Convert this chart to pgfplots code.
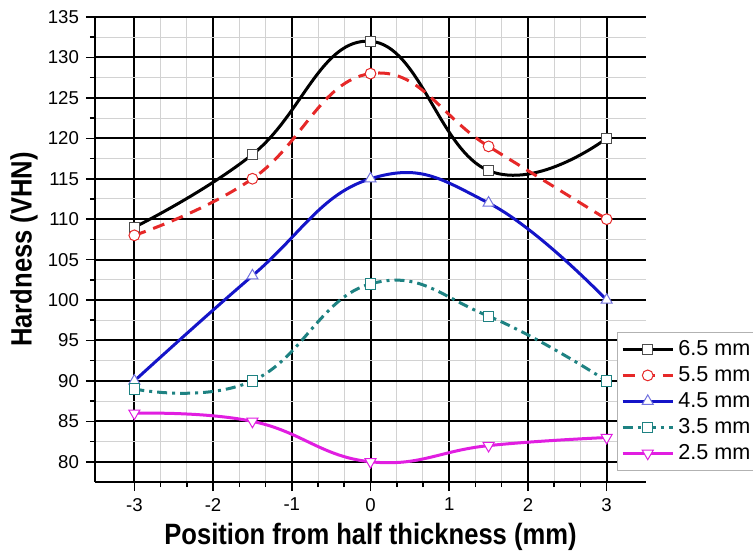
\documentclass[border=0pt]{standalone}
\usepackage{fontspec}
\setmainfont{Liberation Sans}
\newfontfamily\labelfont{Liberation Sans}[FakeStretch=0.87]
\usepackage{pgfplots}
\pgfplotsset{compat=1.18}

\definecolor{cred}{RGB}{230,40,40}
\definecolor{cblue}{RGB}{20,20,200}
\definecolor{cteal}{RGB}{30,130,130}
\definecolor{cmag}{RGB}{225,30,225}

\begin{document}
\begin{tikzpicture}
\begin{axis}[
    name=ax,
    scale only axis,
    width=275.5pt,
    height=232.5pt,
    xmin=-3.5, xmax=3.5,
    ymin=77.5, ymax=135,
    axis lines*=left,
    axis line style={line width=1pt},
    xtick={-3,-2,-1,0,1,2,3},
    ytick={80,85,...,135},
    minor x tick num=2,
    minor y tick num=1,
    tick align=outside,
    major tick length=4.5pt,
    minor tick length=2.5pt,
    tick style={black, line width=0.8pt},
    grid=both,
    major grid style={black, line width=1pt},
    minor grid style={gray!35, line width=0.5pt},
    /pgf/number format/assume math mode=true,
    ticklabel style={font=\fontsize{9.3}{11}\selectfont},
    xlabel={Position from half thickness (mm)},
    ylabel={Hardness (VHN)},
    label style={font=\labelfont\bfseries\fontsize{14.7}{16}\selectfont},
    xlabel style={at={(axis description cs:0.5,-0.118)}, anchor=center},
    ylabel style={at={(axis description cs:-0.129,0.5)}, anchor=center},
    legend style={
        at={(axis description cs:0.947,0.3226)}, anchor=north west,
        draw=gray!60, fill=white,
        font=\fontsize{10.8}{11}\selectfont,
        row sep=0pt,
        inner sep=2pt,
    },
    legend cell align=left,
    legend image code/.code={
        \draw[mark repeat=2,mark phase=2]
        plot coordinates {(0cm,0cm) (0.44cm,0cm) (0.88cm,0cm)};
    },
    every axis plot/.append style={line width=1.5pt, smooth, tension=0.75},
]
\addplot[black, mark=square*, mark size=2.6pt,
    mark options={solid, fill=white, draw=black!70, line width=0.5pt}]
    coordinates {(-3,109) (-1.5,118) (0,132) (1.5,116) (3,120)};
\addlegendentry{6.5 mm}
\addplot[cred, dash pattern=on 6pt off 4pt, mark=*, mark size=2.7pt,
    mark options={solid, fill=white, draw=cred, line width=0.5pt}]
    coordinates {(-3,108) (-1.5,115) (0,128) (1.5,119) (3,110)};
\addlegendentry{5.5 mm}
\addplot[cblue, mark=triangle*, mark size=3.2pt,
    mark options={solid, fill=white, draw=cblue!60, line width=0.5pt}]
    coordinates {(-3,90) (-1.5,103) (0,115) (1.5,112) (3,100)};
\addlegendentry{4.5 mm}
\addplot[cteal, dash pattern=on 5pt off 2.5pt on 1.5pt off 2.5pt, mark=square*, mark size=2.6pt,
    mark options={solid, fill=white, draw=cteal, line width=0.5pt}]
    coordinates {(-3,89) (-1.5,90) (0,102) (1.5,98) (3,90)};
\addlegendentry{3.5 mm}
\addplot[cmag, mark=triangle*, mark size=3.2pt,
    mark options={solid, fill=white, draw=cmag, line width=0.5pt, rotate=180}]
    coordinates {(-3,86) (-1.5,85) (0,80) (1.5,82) (3,83)};
\addlegendentry{2.5 mm}
\end{axis}
\pgfresetboundingbox
\path[use as bounding box] ([xshift=-47.5pt,yshift=-37pt]ax.south west)
    rectangle ([xshift=53.5pt,yshift=8.5pt]ax.north east);
\end{tikzpicture}
\end{document}
